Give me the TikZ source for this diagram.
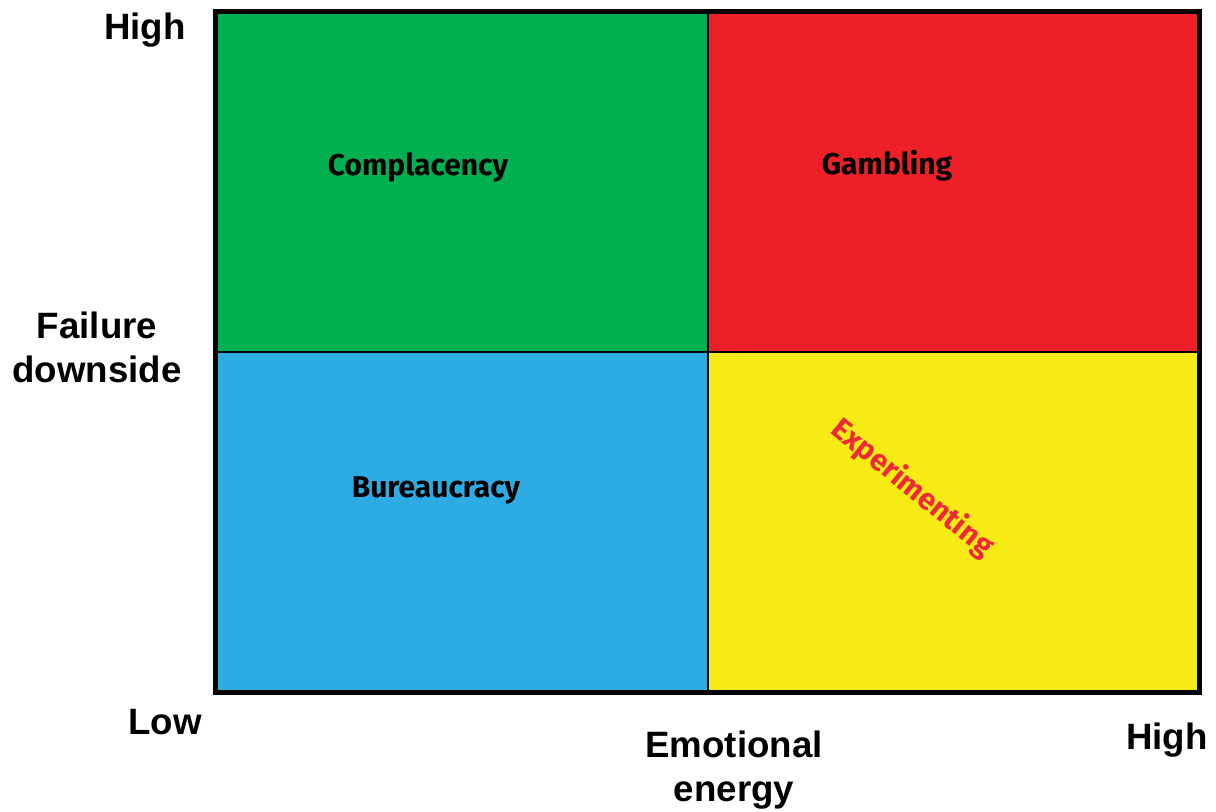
\documentclass[tikz,border=0pt]{standalone}
\usepackage{fontspec}
\setmainfont{Liberation Sans}
\newfontfamily\qfont{Fira Sans}
\definecolor{qgreen}{HTML}{00B050}
\definecolor{qred}{HTML}{EE2027}
\definecolor{qblue}{HTML}{2DACE3}
\definecolor{qyellow}{HTML}{F6EB14}
\definecolor{expred}{HTML}{EE2A3A}
\begin{document}
\begin{tikzpicture}[x=0.75pt,y=-0.75pt,
  axislabel/.style={font=\fontsize{27.5}{33}\selectfont\bfseries, align=center, inner sep=0pt},
  quadlabel/.style={font=\qfont\fontsize{22.5}{27}\selectfont\bfseries, inner sep=0pt},
  quad/.style={draw=black, line width=1.5pt}]
\useasboundingbox (0,0) rectangle (1216,811);
\fill[white] (0,0) rectangle (1216,811);
\path[quad, fill=qgreen] (215.5,11.5) rectangle (708,352);
\path[quad, fill=qred] (708,11.5) rectangle (1199.5,352);
\path[quad, fill=qblue] (215.5,352) rectangle (708,692.5);
\path[quad, fill=qyellow] (708,352) rectangle (1199.5,692.5);
\draw[line width=3.75pt] (215.5,11.5) rectangle (1199.5,692.5);
\node[quadlabel] (comp) at (418,167) {Complacency};
\node[quadlabel] (gamb) at (887,166) {Gambling};
\node[quadlabel] (bur) at (436,490) {Bureaucracy};
\node[quadlabel, text=expred, rotate=-39] (exp) at (912,488) {Experimenting};
\node[axislabel] (hy) at (145,30) {High};
\node[axislabel] (fd) at (97,347) {Failure\\downside};
\node[axislabel] (low) at (165,722) {Low};
\node[axislabel] (ee) at (734,770) {Emotional\\energy};
\node[axislabel] (hx) at (1167,740) {High};
\end{tikzpicture}
\end{document}
